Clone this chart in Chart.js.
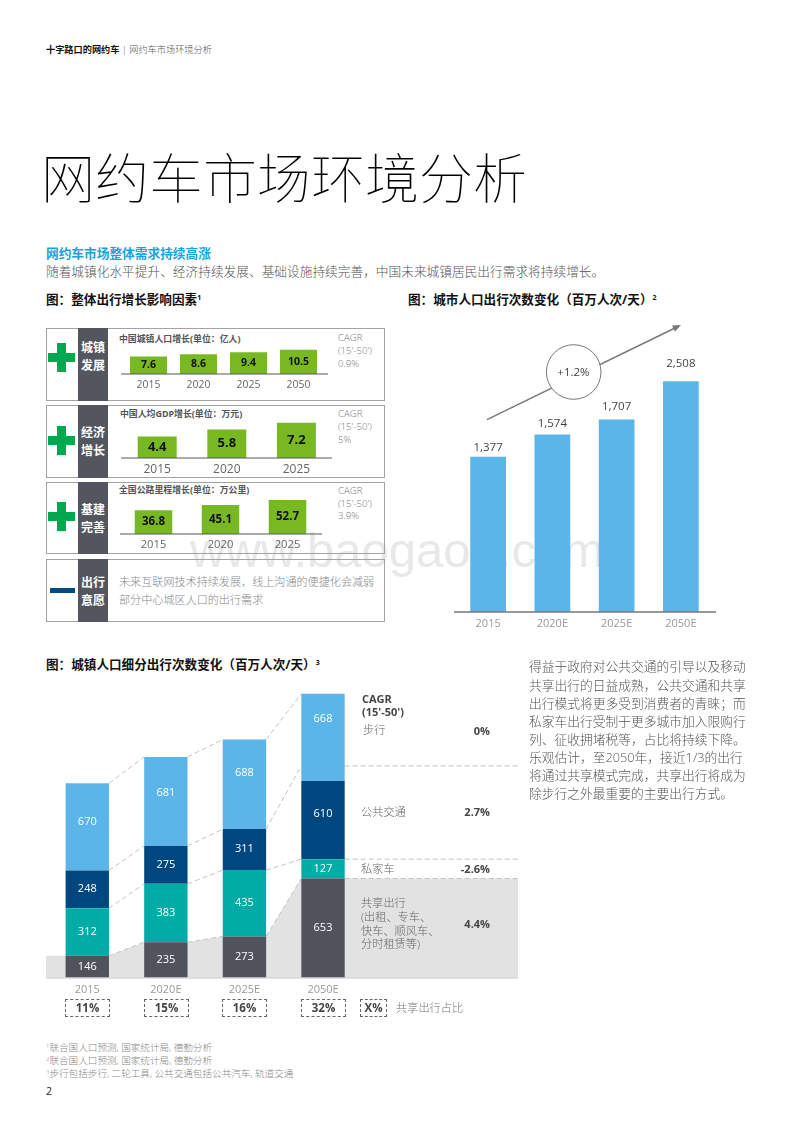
<!DOCTYPE html>
<html lang="zh">
<head>
<meta charset="utf-8">
<title>网约车市场环境分析</title>
<script src="https://cdn.jsdelivr.net/npm/chart.js"></script>
<style>
    html, body { margin: 0; padding: 0; background: #fff; }
    body { position: relative; width: 800px; height: 1132px; overflow: hidden; font-family: "Open Sans", "Noto Sans CJK SC", sans-serif; color: #666; }
    canvas, .box, .t, svg { position: absolute; }
    .t { white-space: nowrap; line-height: 1; transform: translateY(-50%); }
    .b { font-weight: 700; }
    .head { font-size: 12.6px; font-weight: 700; color: #111; }
    .head sup { font-size: 7px; vertical-align: 4px; line-height: 0; }
    .panel { left: 46px; width: 339px; border: 1px solid #a3a3a3; box-sizing: border-box; }
    .strip { left: 78px; width: 30px; background: #53565f; }
    .strip-t { left: 78px; width: 30px; text-align: center; color: #fff; font-size: 12px; font-weight: 700; }
    .green { background: #00a84f; }
    .mini-t { font-size: 8.9px; font-weight: 700; color: #555; }
    .cagr { left: 338px; font-size: 9.6px; font-weight: 300; color: #777; }
    .seg { font-size: 11.2px; font-weight: 300; color: #666; left: 361px; }
    .pct { font-size: 11px; font-weight: 700; color: #444; width: 60px; left: 430px; text-align: right; }
    .share { top: 999px; height: 18px; border: 1.5px dashed #666; box-sizing: border-box; }
    .share-t { top: 1008px; font-size: 11.5px; font-weight: 700; color: #444; text-align: center; }
    .para { left: 529px; font-size: 12.75px; font-weight: 300; color: #555; }
    .foot { left: 46px; font-size: 9.6px; font-weight: 300; color: #888; }
    .foot sup { font-size: 6px; vertical-align: 3px; line-height: 0; }
</style>
</head>
<body>
<!-- watermark sits behind everything -->
<div class="t" style="left:190px;top:550px;font:49px 'Liberation Sans';color:#e8e8e8;">www.baogao8.com</div>

<div class="t" style="left:46px;top:50px;font-size:9.2px;font-weight:300;color:#555;"><span class="b" style="color:#111;">十字路口的网约车</span> | 网约车市场环境分析</div>
<div class="t" style="left:41px;top:178px;font-size:54px;font-weight:100;color:#000;">网约车市场环境分析</div>
<div class="t b" style="left:46px;top:253px;font-size:12.7px;color:#17a3dc;">网约车市场整体需求持续高涨</div>
<div class="t" style="left:46px;top:271px;font-size:12.7px;font-weight:300;color:#555;">随着城镇化水平提升、经济持续发展、基础设施持续完善，中国未来城镇居民出行需求将持续增长。</div>

<div class="t head" style="left:46px;top:300px;">图：整体出行增长影响因素<sup>1</sup></div>
<div class="t head" style="left:408px;top:300px;">图：城市人口出行次数变化（百万人次/天）<sup>2</sup></div>
<div class="t head" style="left:46px;top:665px;">图：城镇人口细分出行次数变化（百万人次/天）<sup>3</sup></div>

<!-- factor panels -->
<div class="box panel" style="top:328px;height:73px;"></div>
<div class="box panel" style="top:405px;height:73px;"></div>
<div class="box panel" style="top:482px;height:72px;"></div>
<div class="box panel" style="top:559px;height:63px;"></div>
<div class="box strip" style="top:328px;height:73px;"></div>
<div class="box strip" style="top:405px;height:73px;"></div>
<div class="box strip" style="top:482px;height:72px;"></div>
<div class="box strip" style="top:559px;height:63px;"></div>
<div class="t strip-t" style="top:348px;">城镇</div><div class="t strip-t" style="top:366px;">发展</div>
<div class="t strip-t" style="top:433px;">经济</div><div class="t strip-t" style="top:451px;">增长</div>
<div class="t strip-t" style="top:510px;">基建</div><div class="t strip-t" style="top:528px;">完善</div>
<div class="t strip-t" style="top:583px;">出行</div><div class="t strip-t" style="top:601px;">意愿</div>

<div class="box green" style="left:48px;top:353px;width:27px;height:9px;"></div>
<div class="box green" style="left:57px;top:343px;width:9px;height:29px;"></div>
<div class="box green" style="left:48px;top:436px;width:27px;height:9px;"></div>
<div class="box green" style="left:57px;top:426px;width:9px;height:29px;"></div>
<div class="box green" style="left:48px;top:512px;width:27px;height:9px;"></div>
<div class="box green" style="left:57px;top:502px;width:9px;height:29px;"></div>
<div class="box" style="left:50px;top:588px;width:25px;height:5px;background:#004a80;"></div>

<div class="t mini-t" style="left:119px;top:339px;">中国城镇人口增长(单位：亿人)</div>
<div class="t mini-t" style="left:120px;top:414px;">中国人均GDP增长(单位：万元)</div>
<div class="t mini-t" style="left:119px;top:490px;">全国公路里程增长(单位：万公里)</div>
<div class="t cagr" style="top:338px;">CAGR</div><div class="t cagr" style="top:351px;">(15'-50')</div><div class="t cagr" style="top:364px;">0.9%</div>
<div class="t cagr" style="top:414px;">CAGR</div><div class="t cagr" style="top:427px;">(15'-50')</div><div class="t cagr" style="top:440px;">5%</div>
<div class="t cagr" style="top:491px;">CAGR</div><div class="t cagr" style="top:504px;">(15'-50')</div><div class="t cagr" style="top:516px;">3.9%</div>
<div class="t" style="left:119px;top:582px;font-size:11.1px;font-weight:300;color:#888;">未来互联网技术持续发展，线上沟通的便捷化会减弱</div>
<div class="t" style="left:119px;top:600px;font-size:11.1px;font-weight:300;color:#888;">部分中心城区人口的出行需求</div>

<canvas id="popChart" width="207" height="49" style="left:121px;top:345px;"></canvas>
<canvas id="gdpChart" width="211" height="58" style="left:121px;top:420px;"></canvas>
<canvas id="roadChart" width="202" height="59" style="left:120px;top:495px;"></canvas>

<!-- total trips chart -->
<canvas id="tripChart" width="262" height="282" style="left:454px;top:350px;"></canvas>
<svg width="800" height="450" style="left:0;top:300px;">
    <line x1="487" y1="119.7" x2="676" y2="27.5" stroke="#777" stroke-width="1.4"/>
    <path d="M681 25 L672 25.4 L675 31.5 Z" fill="#777"/>
    <circle cx="573.7" cy="72" r="27.3" fill="#fff" stroke="#777" stroke-width="1"/>
</svg>
<div class="t" style="left:546px;width:55px;top:372px;font-size:11.5px;color:#444;text-align:center;">+1.2%</div>

<!-- split chart -->
<canvas id="splitChart" width="472" height="308" style="left:46px;top:690px;"></canvas>
<div class="t b" style="left:362px;top:698px;font-size:11px;color:#444;">CAGR</div>
<div class="t b" style="left:362px;top:711px;font-size:11px;color:#444;">(15'-50')</div>
<div class="t seg" style="top:730px;left:363px;">步行</div><div class="t pct" style="top:730px;">0%</div>
<div class="t seg" style="top:812px;">公共交通</div><div class="t pct" style="top:811px;">2.7%</div>
<div class="t seg" style="top:869px;">私家车</div><div class="t pct" style="top:868px;">-2.6%</div>
<div class="t seg" style="top:903px;">共享出行</div><div class="t seg" style="top:917px;">(出租、专车、</div>
<div class="t seg" style="top:931px;">快车、顺风车、</div><div class="t seg" style="top:944px;">分时租赁等)</div>
<div class="t pct" style="top:923px;">4.4%</div>

<div class="box share" style="left:65px;width:45px;"></div><div class="t share-t" style="left:65px;width:45px;">11%</div>
<div class="box share" style="left:144px;width:45px;"></div><div class="t share-t" style="left:144px;width:45px;">15%</div>
<div class="box share" style="left:222px;width:45px;"></div><div class="t share-t" style="left:222px;width:45px;">16%</div>
<div class="box share" style="left:301px;width:45px;"></div><div class="t share-t" style="left:301px;width:45px;">32%</div>
<div class="box share" style="left:360px;width:27px;"></div><div class="t share-t" style="left:360px;width:27px;">X%</div>
<div class="t seg" style="left:396px;top:1008px;color:#777;">共享出行占比</div>

<div class="t para" style="top:666px;">得益于政府对公共交通的引导以及移动</div>
<div class="t para" style="top:684.5px;">共享出行的日益成熟，公共交通和共享</div>
<div class="t para" style="top:702.5px;">出行模式将更多受到消费者的青睐；而</div>
<div class="t para" style="top:720.5px;">私家车出行受制于更多城市加入限购行</div>
<div class="t para" style="top:738.5px;">列、征收拥堵税等，占比将持续下降。</div>
<div class="t para" style="top:756.5px;">乐观估计，至2050年，接近1/3的出行</div>
<div class="t para" style="top:775px;">将通过共享模式完成，共享出行将成为</div>
<div class="t para" style="top:793px;">除步行之外最重要的主要出行方式。</div>

<div class="t foot" style="top:1048px;"><sup>1</sup>联合国人口预测, 国家统计局, 德勤分析</div>
<div class="t foot" style="top:1061px;"><sup>2</sup>联合国人口预测, 国家统计局, 德勤分析</div>
<div class="t foot" style="top:1074px;"><sup>3</sup>步行包括步行, 二轮工具, 公共交通包括公共汽车, 轨道交通</div>
<div class="t" style="left:46px;top:1091px;font-size:10.5px;color:#222;">2</div>

<script>
// factor panels
const popYears = ['2015', '2020', '2025', '2050'];
const popValues = [7.6, 8.6, 9.4, 10.5];
const gdpYears = ['2015', '2020', '2025'];
const gdpValues = [4.4, 5.8, 7.2];
const roadYears = ['2015', '2020', '2025'];
const roadValues = [36.8, 45.1, 52.7];

// total trips. The source draws the 2050E bar shorter than its 2,508 label
// would put it, so the printed figures and the bar lengths are kept apart.
const tripYears = ['2015', '2020E', '2025E', '2050E'];
const tripPrinted = ['1,377', '1,574', '1,707', '2,508'];
const tripBars = [1377, 1574, 1707, 2044];

// trips by mode. Same story: printed figures, then lengths.
const splitYears = ['2015', '2020E', '2025E', '2050E'];
const sharePrinted = [146, 235, 273, 653];
const privatePrinted = [312, 383, 435, 127];
const transitPrinted = [248, 275, 311, 610];
const walkPrinted = [670, 681, 688, 668];
const transitBars = [248, 249, 269, 513];
const walkBars = [572, 584, 588, 572];
// level on the y axis where the transit guide leaves the 2050E bar
const transitGuideLevel = 1392;

const FONT = '"Open Sans", "Noto Sans CJK SC", sans-serif';

// line under the bars, full canvas width
const baseLine = {
    id: 'baseLine',
    afterDatasetsDraw(chart, args, opts) {
        const ctx = chart.ctx;
        ctx.save();
        ctx.strokeStyle = opts.color;
        ctx.lineWidth = opts.width;
        ctx.beginPath();
        ctx.moveTo(0, chart.chartArea.bottom);
        ctx.lineTo(chart.width, chart.chartArea.bottom);
        ctx.stroke();
        ctx.restore();
    }
};

// text on or above each bar
function barText(sets) {
    return {
        id: 'barText',
        afterDatasetsDraw(chart) {
            const ctx = chart.ctx;
            ctx.save();
            ctx.textAlign = 'center';
            ctx.textBaseline = 'middle';
            sets.forEach(set => {
                ctx.font = set.font;
                ctx.fillStyle = set.color;
                chart.getDatasetMeta(set.dataset).data.forEach((bar, i) => {
                    const shift = set.shift ? set.shift[i] : 0;
                    const y = set.above ? bar.y - shift : (bar.y + bar.base) / 2 + shift;
                    ctx.fillText(set.text[i], bar.x, y);
                });
            });
            ctx.restore();
        }
    };
}

// grey share area and the dashed guides between the stacks
const splitGuides = {
    id: 'splitGuides',
    beforeDatasetsDraw(chart) {
        const ctx = chart.ctx;
        const bottom = chart.chartArea.bottom;
        const w = chart.width;
        const bars = d => chart.getDatasetMeta(d).data;
        const share = bars(0);
        const last = share.length - 1;

        ctx.save();
        ctx.fillStyle = '#e2e2e2';
        ctx.beginPath();
        ctx.moveTo(0, bottom);
        ctx.lineTo(0, share[0].y);
        share.forEach(b => {
            ctx.lineTo(b.x - b.width / 2, b.y);
            ctx.lineTo(b.x + b.width / 2, b.y);
        });
        ctx.lineTo(w, share[last].y);
        ctx.lineTo(w, bottom);
        ctx.closePath();
        ctx.fill();

        ctx.strokeStyle = '#c4c4c4';
        ctx.lineWidth = 1;
        ctx.setLineDash([5, 3]);
        [0, 1, 2, 3].forEach(d => {
            const list = bars(d);
            const levelAt = i => (d == 2 && i == last) ? chart.scales.y.getPixelForValue(transitGuideLevel) : list[i].y;
            ctx.beginPath();
            list.forEach((b, i) => {
                if (i < last) {
                    ctx.moveTo(b.x + b.width / 2, b.y);
                    ctx.lineTo(list[i + 1].x - list[i + 1].width / 2, levelAt(i + 1));
                }
            });
            if (d < 3) {
                ctx.moveTo(list[last].x + list[last].width / 2, levelAt(last));
                ctx.lineTo(w, levelAt(last));
            }
            ctx.stroke();
        });
        ctx.restore();
    }
};

function baseOptions(yMax, stacked, pad, tick, axisHeight) {
    return {
        responsive: false,
        animation: false,
        layout: { padding: { left: pad[0], right: pad[1], top: 0, bottom: 0 } },
        plugins: { legend: { display: false }, tooltip: { enabled: false } },
        scales: {
            x: {
                stacked: stacked,
                afterFit: scale => { scale.height = axisHeight; },
                grid: { display: false, drawTicks: false },
                border: { display: false },
                ticks: { font: { family: FONT, size: tick.size }, color: tick.color, padding: tick.padding, maxRotation: 0, autoSkip: false }
            },
            y: { display: false, stacked: stacked, min: 0, max: yMax }
        }
    };
}

function miniChart(id, labels, values, yMax, pad, barPct, tickSize, tickPad, textSize) {
    const options = baseOptions(yMax, false, pad, { size: tickSize, color: '#666', padding: tickPad }, 20);
    options.plugins.baseLine = { color: '#55585f', width: 1 };
    const sets = [{ dataset: 0, text: values.map(v => v.toFixed(1)), color: '#111', font: `bold ${textSize}px ${FONT}` }];
    new Chart(document.getElementById(id), {
        type: 'bar',
        data: {
            labels: labels,
            datasets: [{ data: values, backgroundColor: '#78b823', barPercentage: barPct, categoryPercentage: 1 }]
        },
        options: options,
        plugins: [baseLine, barText(sets)]
    });
}

miniChart('popChart', popYears, popValues, 12.6, [2.5, 4.5], 0.74, 10.4, 5, 10.5);
miniChart('gdpChart', gdpYears, gdpValues, 7.75, [1.4, 0.8], 0.56, 12, 4, 13);
miniChart('roadChart', roadYears, roadValues, 60.5, [0, 1], 0.56, 11.2, 4, 11.5);

// total trips
const tripOptions = baseOptions(2322, false, [2, 3], { size: 11, color: '#999', padding: 5 }, 20);
tripOptions.plugins.baseLine = { color: '#777', width: 1.5 };
new Chart(document.getElementById('tripChart'), {
    type: 'bar',
    data: {
        labels: tripYears,
        datasets: [{ data: tripBars, backgroundColor: '#5cb5e8', barPercentage: 0.556, categoryPercentage: 1 }]
    },
    options: tripOptions,
    plugins: [baseLine, barText([{ dataset: 0, above: true, text: tripPrinted, shift: [9, 11, 13, 18], color: '#444', font: `11.5px ${FONT}` }])]
});

// trips by mode
const splitOptions = baseOptions(1890, true, [2, 155.7], { size: 11, color: '#999', padding: 5 }, 20);
splitOptions.plugins.baseLine = { color: '#d8d8d8', width: 1.5 };
const splitFont = `11px ${FONT}`;
const splitText = [
    { dataset: 0, text: sharePrinted, color: '#fff', font: splitFont },
    { dataset: 1, text: privatePrinted, color: '#fff', font: splitFont },
    { dataset: 2, text: transitPrinted, color: '#fff', font: splitFont, shift: [0, 0, -1, -6] },
    { dataset: 3, text: walkPrinted, color: '#fff', font: splitFont, shift: [-5, -9, -11, -19] }
];
new Chart(document.getElementById('splitChart'), {
    type: 'bar',
    data: {
        labels: splitYears,
        datasets: [
            { label: '共享出行', data: sharePrinted, backgroundColor: '#50535c' },
            { label: '私家车', data: privatePrinted, backgroundColor: '#00aca5' },
            { label: '公共交通', data: transitBars, backgroundColor: '#00477f' },
            { label: '步行', data: walkBars, backgroundColor: '#5cb5e8' }
        ].map(set => Object.assign(set, { barPercentage: 0.552, categoryPercentage: 1 }))
    },
    options: splitOptions,
    plugins: [splitGuides, baseLine, barText(splitText)]
});
</script>
</body>
</html>
